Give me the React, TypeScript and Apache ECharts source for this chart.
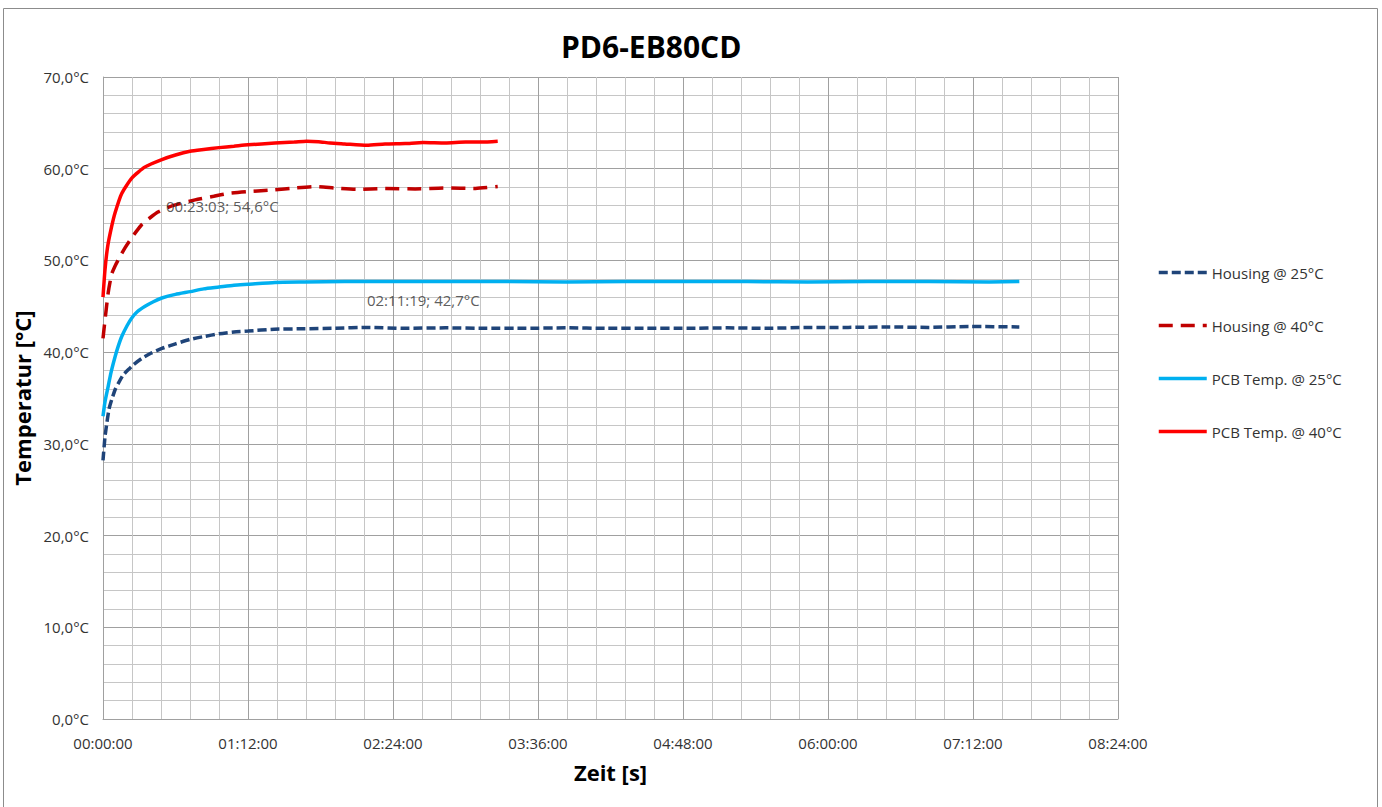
import React, { useEffect, useRef } from "react";
import * as echarts from "echarts";

// time in minutes, temperature in °C
const housing25Times = [0, 1, 2, 3, 4.3, 6, 7.6, 10, 12.6, 15, 19.2, 24, 29.2, 36, 43.4, 50, 57.6, 65, 72, 85, 100, 115, 131.3, 150, 170, 190, 210, 230, 250, 270, 290, 310, 330, 350, 370, 390, 410, 430, 455];
const housing25Values = [28.2, 30.8, 32.4, 33.8, 34.8, 35.9, 36.6, 37.5, 38.1, 38.6, 39.3, 39.9, 40.4, 40.9, 41.4, 41.7, 42.0, 42.2, 42.3, 42.5, 42.55, 42.6, 42.7, 42.6, 42.65, 42.6, 42.6, 42.65, 42.6, 42.6, 42.6, 42.65, 42.6, 42.7, 42.7, 42.75, 42.7, 42.8, 42.75];

const housing40Times = [0, 1, 2.6, 4.3, 6, 8.4, 11, 13.4, 16, 19.2, 23.05, 27.5, 35, 45.7, 55, 62, 72, 85, 95, 106, 115, 126, 140, 155, 170, 185, 196];
const housing40Values = [41.5, 43.5, 46.5, 48.5, 49.4, 50.4, 51.4, 52.2, 53.0, 53.9, 54.6, 55.3, 56.0, 56.6, 57.0, 57.3, 57.5, 57.7, 57.9, 58.05, 57.9, 57.75, 57.85, 57.8, 57.9, 57.85, 58.05];

const pcb25Times = [0, 1, 2.6, 4, 6, 7.5, 9.3, 12, 14.2, 17, 20.9, 25, 29.2, 36, 43.4, 50, 57.6, 65, 72, 85.4, 100, 120, 140, 160, 180, 200, 230, 260, 290, 320, 350, 380, 410, 440, 455];
const pcb25Values = [33.0, 34.6, 36.3, 37.8, 39.5, 40.6, 41.7, 42.9, 43.7, 44.4, 45.0, 45.5, 45.9, 46.3, 46.6, 46.9, 47.1, 47.3, 47.4, 47.6, 47.65, 47.7, 47.7, 47.7, 47.7, 47.7, 47.65, 47.7, 47.7, 47.7, 47.65, 47.7, 47.7, 47.65, 47.7];

const pcb40Times = [0, 1, 2.3, 4.3, 6, 9.3, 14.4, 20.9, 29.2, 36, 43.2, 50, 57.6, 65, 72, 85.4, 95, 101, 107, 112.7, 120, 131, 140, 150, 159, 170, 180, 188, 196];
const pcb40Values = [46.0, 49.0, 51.5, 53.7, 55.2, 57.3, 59.0, 60.2, 61.0, 61.5, 61.9, 62.1, 62.3, 62.45, 62.6, 62.8, 62.9, 63.0, 62.95, 62.8, 62.7, 62.55, 62.7, 62.75, 62.85, 62.8, 62.9, 62.9, 63.0];

const seriesNames = ["Housing @ 25°C", "Housing @ 40°C", "PCB Temp. @ 25°C", "PCB Temp. @ 40°C"];

const annotationPoints = [
  { t: 23.05, v: 54.6, text: "00:23:03; 54,6°C" },
  { t: 131.32, v: 42.7, text: "02:11:19; 42,7°C" },
];

const pair = (ts: number[], vs: number[]) => ts.map((t, i) => [t, vs[i]]);

const pad = (n: number) => (n < 10 ? "0" + n : "" + n);
const fmtTime = (min: number) => {
  const h = Math.floor(min / 60);
  const m = Math.round(min - h * 60);
  return `${pad(h)}:${pad(m)}:00`;
};

const FONT = "Open Sans";
const TEXT = "#333333";

export default function App() {
  const ref = useRef<HTMLDivElement>(null);
  useEffect(() => {
    if (!ref.current) return;
    const chart = echarts.init(ref.current, undefined, { renderer: "svg" });
    const lineBase = (name: string, data: number[][], color: string, type: any) => ({
      name,
      type: "line",
      data,
      showSymbol: false,
      symbol: "none",
      smooth: 0.2,
      lineStyle: { color, width: 3.5, type },
      itemStyle: { color },
      z: 3,
    });
    const annPos: any[] = [[17, -12], [0, -27]];
    chart.setOption({
      animation: false,
      backgroundColor: "#ffffff",
      title: {
        text: "PD6-EB80CD",
        left: 556,
        top: 26,
        textStyle: { fontFamily: FONT, fontSize: 30, fontWeight: "bold", color: "#000" },
      },
      grid: { left: 103, right: 264, top: 77, bottom: 88, containLabel: false },
      legend: {
        orient: "vertical",
        left: 1152,
        top: 260,
        itemWidth: 48,
        itemHeight: 16,
        itemGap: 38,
        data: seriesNames,
        itemStyle: { opacity: 0, borderWidth: 0 },
        lineStyle: { width: 3.5 },
        textStyle: { fontFamily: FONT, fontSize: 15, color: TEXT },
      },
      xAxis: {
        type: "value",
        min: 0,
        max: 504,
        interval: 72,
        name: "Zeit [s]",
        nameLocation: "middle",
        nameGap: 42,
        nameTextStyle: { fontFamily: FONT, fontSize: 22, fontWeight: "bold", color: "#000" },
        axisLine: { show: true, lineStyle: { color: "#a0a0a0", width: 1 } },
        axisTick: { show: false },
        axisLabel: { fontFamily: FONT, fontSize: 15, color: TEXT, margin: 16, formatter: (v: number) => fmtTime(v) },
        splitLine: { show: true, lineStyle: { color: "#a0a0a0", width: 1 } },
        minorTick: { show: false, splitNumber: 5 },
        minorSplitLine: { show: true, lineStyle: { color: "#c6c6c6", width: 1 } },
      },
      yAxis: {
        type: "value",
        min: 0,
        max: 70,
        interval: 10,
        name: "Temperatur [°C]",
        nameLocation: "middle",
        nameGap: 60,
        nameTextStyle: { fontFamily: FONT, fontSize: 22, fontWeight: "bold", color: "#000" },
        axisLine: { show: true, lineStyle: { color: "#a0a0a0", width: 1 } },
        axisTick: { show: false },
        axisLabel: {
          fontFamily: FONT,
          fontSize: 15,
          color: TEXT,
          margin: 14,
          formatter: (v: number) => v.toFixed(1).replace(".", ",") + "°C",
        },
        splitLine: { show: true, lineStyle: { color: "#a0a0a0", width: 1 } },
        minorTick: { show: false, splitNumber: 5 },
        minorSplitLine: { show: true, lineStyle: { color: "#c6c6c6", width: 1 } },
      },
      graphic: [
        {
          type: "rect",
          shape: { x: 3.5, y: 8.5, width: 1374, height: 830 },
          style: { fill: "none", stroke: "#8c8c8c", lineWidth: 1 },
          silent: true,
        },
      ],
      series: [
        lineBase(seriesNames[0], pair(housing25Times, housing25Values), "#1f4479", [9, 4]),
        lineBase(seriesNames[1], pair(housing40Times, housing40Values), "#c00000", [14, 8]),
        lineBase(seriesNames[2], pair(pcb25Times, pcb25Values), "#00b0f0", "solid"),
        lineBase(seriesNames[3], pair(pcb40Times, pcb40Values), "#ff0000", "solid"),
        {
          name: "annotations",
          type: "scatter",
          symbolSize: 1,
          itemStyle: { color: "rgba(0,0,0,0)" },
          z: 5,
          data: annotationPoints.map((p, i) => ({
            value: [p.t, p.v],
            label: {
              show: true,
              formatter: p.text,
              position: annPos[i],
              align: "left",
              verticalAlign: "middle",
              fontFamily: FONT,
              fontSize: 15,
              color: TEXT,
            },
          })),
        },
      ],
    });
    return () => chart.dispose();
  }, []);
  return (
    <div style={{ position: "fixed", left: 0, top: 0, width: 1382, height: 807, background: "#fff" }}>
      <div ref={ref} style={{ width: 1382, height: 807 }} />
    </div>
  );
}
